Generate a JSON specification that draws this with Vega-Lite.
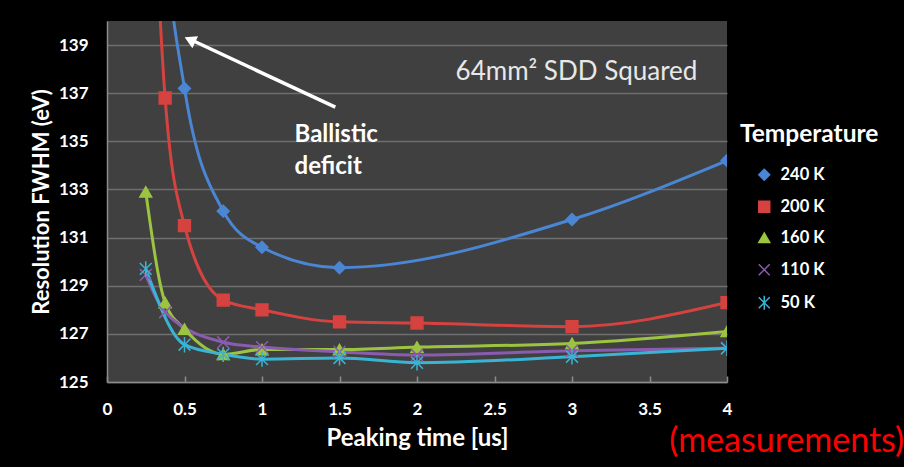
{
  "$schema": "https://vega.github.io/schema/vega-lite/v6.json",
  "width": 620,
  "height": 361,
  "autosize": {"type": "none"},
  "padding": {"left": 107, "top": 21, "right": 177, "bottom": 85},
  "background": "#000000",
  "config": {
    "view": {"fill": "#404040", "stroke": null},
    "font": "Lato"
  },
  "datasets": {
    "meas": [
      {"t": "240 K", "x": 0.25, "y": 158},
      {"t": "240 K", "x": 0.375, "y": 143.5},
      {"t": "240 K", "x": 0.5, "y": 137.2},
      {"t": "240 K", "x": 0.75, "y": 132.1},
      {"t": "240 K", "x": 1, "y": 130.6},
      {"t": "240 K", "x": 1.5, "y": 129.75},
      {"t": "240 K", "x": 3, "y": 131.75},
      {"t": "240 K", "x": 4, "y": 134.2},
      {"t": "200 K", "x": 0.25, "y": 153},
      {"t": "200 K", "x": 0.375, "y": 136.8},
      {"t": "200 K", "x": 0.5, "y": 131.5},
      {"t": "200 K", "x": 0.75, "y": 128.4},
      {"t": "200 K", "x": 1, "y": 128.0},
      {"t": "200 K", "x": 1.5, "y": 127.5},
      {"t": "200 K", "x": 2, "y": 127.45},
      {"t": "200 K", "x": 3, "y": 127.3},
      {"t": "200 K", "x": 4, "y": 128.3},
      {"t": "160 K", "x": 0.25, "y": 132.9},
      {"t": "160 K", "x": 0.375, "y": 128.3},
      {"t": "160 K", "x": 0.5, "y": 127.2},
      {"t": "160 K", "x": 0.75, "y": 126.15},
      {"t": "160 K", "x": 1, "y": 126.35},
      {"t": "160 K", "x": 1.5, "y": 126.35},
      {"t": "160 K", "x": 2, "y": 126.45},
      {"t": "160 K", "x": 3, "y": 126.6},
      {"t": "160 K", "x": 4, "y": 127.1},
      {"t": "110 K", "x": 0.25, "y": 129.45},
      {"t": "110 K", "x": 0.375, "y": 127.9},
      {"t": "110 K", "x": 0.75, "y": 126.65},
      {"t": "110 K", "x": 1, "y": 126.45},
      {"t": "110 K", "x": 1.5, "y": 126.25},
      {"t": "110 K", "x": 2, "y": 126.12},
      {"t": "110 K", "x": 3, "y": 126.3},
      {"t": "110 K", "x": 4, "y": 126.4},
      {"t": "50 K", "x": 0.25, "y": 129.7},
      {"t": "50 K", "x": 0.5, "y": 126.55},
      {"t": "50 K", "x": 0.75, "y": 126.15},
      {"t": "50 K", "x": 1, "y": 125.95},
      {"t": "50 K", "x": 1.5, "y": 126.0},
      {"t": "50 K", "x": 2, "y": 125.8},
      {"t": "50 K", "x": 3, "y": 126.05},
      {"t": "50 K", "x": 4, "y": 126.4}
    ],
    "one": [{"k": 1}]
  },
  "layer": [
    {
      "data": {"name": "meas"},
      "mark": {"type": "line", "interpolate": "monotone", "strokeWidth": 3, "clip": true},
      "encoding": {
        "x": {
          "field": "x", "type": "quantitative",
          "scale": {"domain": [0, 4], "nice": false},
          "axis": {
            "title": "Peaking time [us]",
            "values": [0, 0.5, 1, 1.5, 2, 2.5, 3, 3.5, 4],
            "format": "~g",
            "labelFlush": false,
            "grid": false,
            "domainColor": "#8c8c8c",
            "domainWidth": 1.5,
            "tickColor": "#8c8c8c",
            "tickSize": -6,
            "tickWidth": 1.5,
            "labelColor": "#ffffff",
            "labelFont": "Lato",
            "labelFontWeight": "bold",
            "labelFontSize": 17,
            "labelPadding": 25,
            "titleColor": "#ffffff",
            "titleFont": "Lato",
            "titleFontWeight": "bold",
            "titleFontSize": 24,
            "titlePadding": 9
          }
        },
        "y": {
          "field": "y", "type": "quantitative",
          "scale": {"domain": [125, 140], "nice": false, "zero": false},
          "axis": {
            "title": "Resolution FWHM (eV)",
            "values": [125, 127, 129, 131, 133, 135, 137, 139],
            "labelFlush": false,
            "grid": true,
            "gridColor": "#6e6e6e",
            "gridWidth": 1.5,
            "domainColor": "#8c8c8c",
            "domainWidth": 1.5,
            "ticks": false,
            "labelColor": "#ffffff",
            "labelFont": "Lato",
            "labelFontWeight": "bold",
            "labelFontSize": 17,
            "labelPadding": 19,
            "titleColor": "#ffffff",
            "titleFont": "Lato",
            "titleFontWeight": "bold",
            "titleFontSize": 22,
            "titlePadding": 5
          }
        },
        "color": {
          "field": "t", "type": "nominal",
          "scale": {
            "domain": ["240 K", "200 K", "160 K", "110 K", "50 K"],
            "range": ["#4a86d4", "#d6423f", "#9cc440", "#8a5cb0", "#3ab4d4"]
          },
          "legend": {
            "title": "Temperature",
            "orient": "none",
            "legendX": 633,
            "legendY": 102,
            "padding": 0,
            "titleColor": "#ffffff",
            "titleFont": "Lato",
            "titleFontWeight": "bold",
            "titleFontSize": 24.5,
            "titlePadding": 19,
            "labelColor": "#ffffff",
            "labelFont": "Lato",
            "labelFontWeight": "bold",
            "labelFontSize": 16.5,
            "labelOffset": 8,
            "rowPadding": 14,
            "symbolOffset": 16,
            "symbolSize": 120,
            "symbolStrokeWidth": 1.5
          }
        },
        "detail": {"field": "t"}
      }
    },
    {
      "data": {"name": "meas"},
      "mark": {"type": "point", "filled": true, "size": 140, "strokeWidth": 1.5, "opacity": 1, "clip": true},
      "encoding": {
        "x": {"field": "x", "type": "quantitative"},
        "y": {"field": "y", "type": "quantitative"},
        "color": {"field": "t", "type": "nominal"},
        "stroke": {
          "field": "t", "type": "nominal",
          "scale": {
            "domain": ["240 K", "200 K", "160 K", "110 K", "50 K"],
            "range": ["#4a86d4", "#d6423f", "#9cc440", "#8a5cb0", "#3ab4d4"]
          }
        },
        "shape": {
          "field": "t", "type": "nominal",
          "scale": {
            "domain": ["240 K", "200 K", "160 K", "110 K", "50 K"],
            "range": ["diamond", "square", "triangle-up", "M-1,-1L1,1M-1,1L1,-1", "M-1,-1L1,1M-1,1L1,-1M0,-1.3L0,1.3"]
          }
        }
      }
    },
    {
      "data": {"name": "one"},
      "mark": {"type": "rule", "color": "#ffffff", "strokeWidth": 3.5},
      "encoding": {
        "x": {"datum": 1.473},
        "y": {"datum": 136.42},
        "x2": {"datum": 0.545},
        "y2": {"datum": 139.21}
      }
    },
    {
      "data": {"name": "one"},
      "mark": {"type": "point", "shape": "triangle-up", "filled": true, "color": "#ffffff", "size": 180, "angle": 295, "opacity": 1},
      "encoding": {
        "x": {"datum": 0.535},
        "y": {"datum": 139.22}
      }
    },
    {
      "data": {"name": "one"},
      "mark": {"type": "text", "text": ["Ballistic", "deficit"], "align": "left", "baseline": "top", "lineHeight": 32, "color": "#ffffff", "font": "Lato", "fontWeight": "bold", "fontSize": 24},
      "encoding": {
        "x": {"datum": 1.21},
        "y": {"datum": 135.76}
      }
    },
    {
      "data": {"name": "one"},
      "mark": {"type": "text", "text": "64mm² SDD Squared", "align": "left", "baseline": "middle", "color": "#e8e8e8", "font": "Lato", "fontSize": 26},
      "encoding": {
        "x": {"datum": 2.249},
        "y": {"datum": 137.88}
      }
    },
    {
      "data": {"name": "one"},
      "mark": {"type": "text", "text": "(measurements)", "align": "right", "baseline": "middle", "color": "#ff0000", "font": "Lato", "fontSize": 34},
      "encoding": {
        "x": {"datum": 5.143},
        "y": {"datum": 122.5}
      }
    }
  ]
}
